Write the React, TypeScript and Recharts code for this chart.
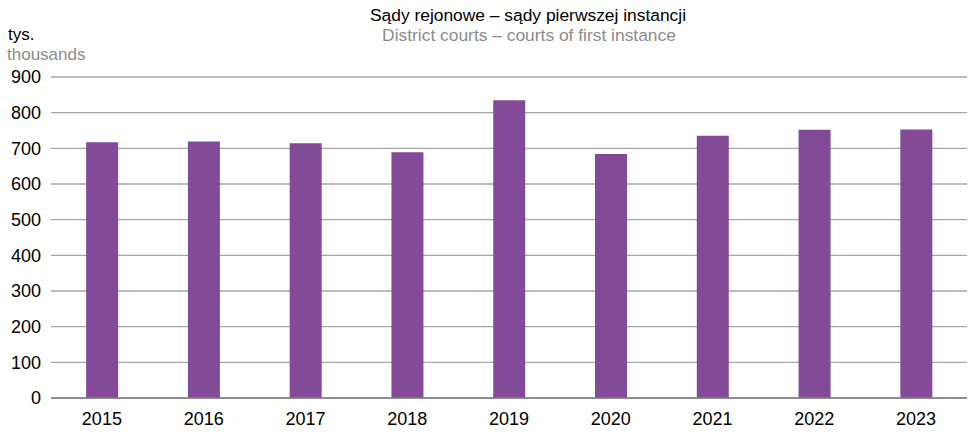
import React from 'react';
import { BarChart, Bar, XAxis, YAxis, CartesianGrid } from 'recharts';

const years = ['2015', '2016', '2017', '2018', '2019', '2020', '2021', '2022', '2023'];
const cases = [717, 719, 714, 689, 835, 684, 735, 752, 753];
const yTicks = [0, 100, 200, 300, 400, 500, 600, 700, 800, 900];

const data = years.map((y, i) => ({ year: y, value: cases[i] }));

const FONT = '"Liberation Sans", Arial, sans-serif';

export default function App() {
  return (
    <div style={{ position: 'absolute', left: 0, top: 0, width: 968, height: 433, fontFamily: FONT }}>
      <BarChart
        width={968}
        height={433}
        data={data}
        margin={{ top: 77, right: 1, bottom: 0, left: 0 }}
        barCategoryGap="34.5%"
      >
        <CartesianGrid vertical={false} stroke="#a6a6a6" strokeWidth={1.3} />
        <XAxis
          dataKey="year"
          height={35}
          axisLine={{ stroke: '#7f7f7f', strokeWidth: 1.3 }}
          tickLine={false}
          tickSize={0}
          tickMargin={14}
          tick={{ fill: '#000', fontSize: 18, fontFamily: FONT }}
        />
        <YAxis
          width={51}
          domain={[0, 900]}
          ticks={yTicks}
          axisLine={false}
          tickLine={false}
          tickSize={0}
          tickMargin={10}
          tick={{ fill: '#000', fontSize: 18, fontFamily: FONT }}
        />
        <Bar dataKey="value" fill="#834A97" isAnimationActive={false} />
        <text x={528} y={21} textAnchor="middle" fontSize={17.4} fontFamily={FONT} fill="#000">
          Sądy rejonowe – sądy pierwszej instancji
        </text>
        <text x={529} y={40.5} textAnchor="middle" fontSize={17.4} fontFamily={FONT} fill="#8c8c8c">
          District courts – courts of first instance
        </text>
        <text x={8} y={40} textAnchor="start" fontSize={17} fontFamily={FONT} fill="#000">
          tys.
        </text>
        <text x={7} y={59.5} textAnchor="start" fontSize={17} fontFamily={FONT} fill="#8c8c8c">
          thousands
        </text>
      </BarChart>
    </div>
  );
}
